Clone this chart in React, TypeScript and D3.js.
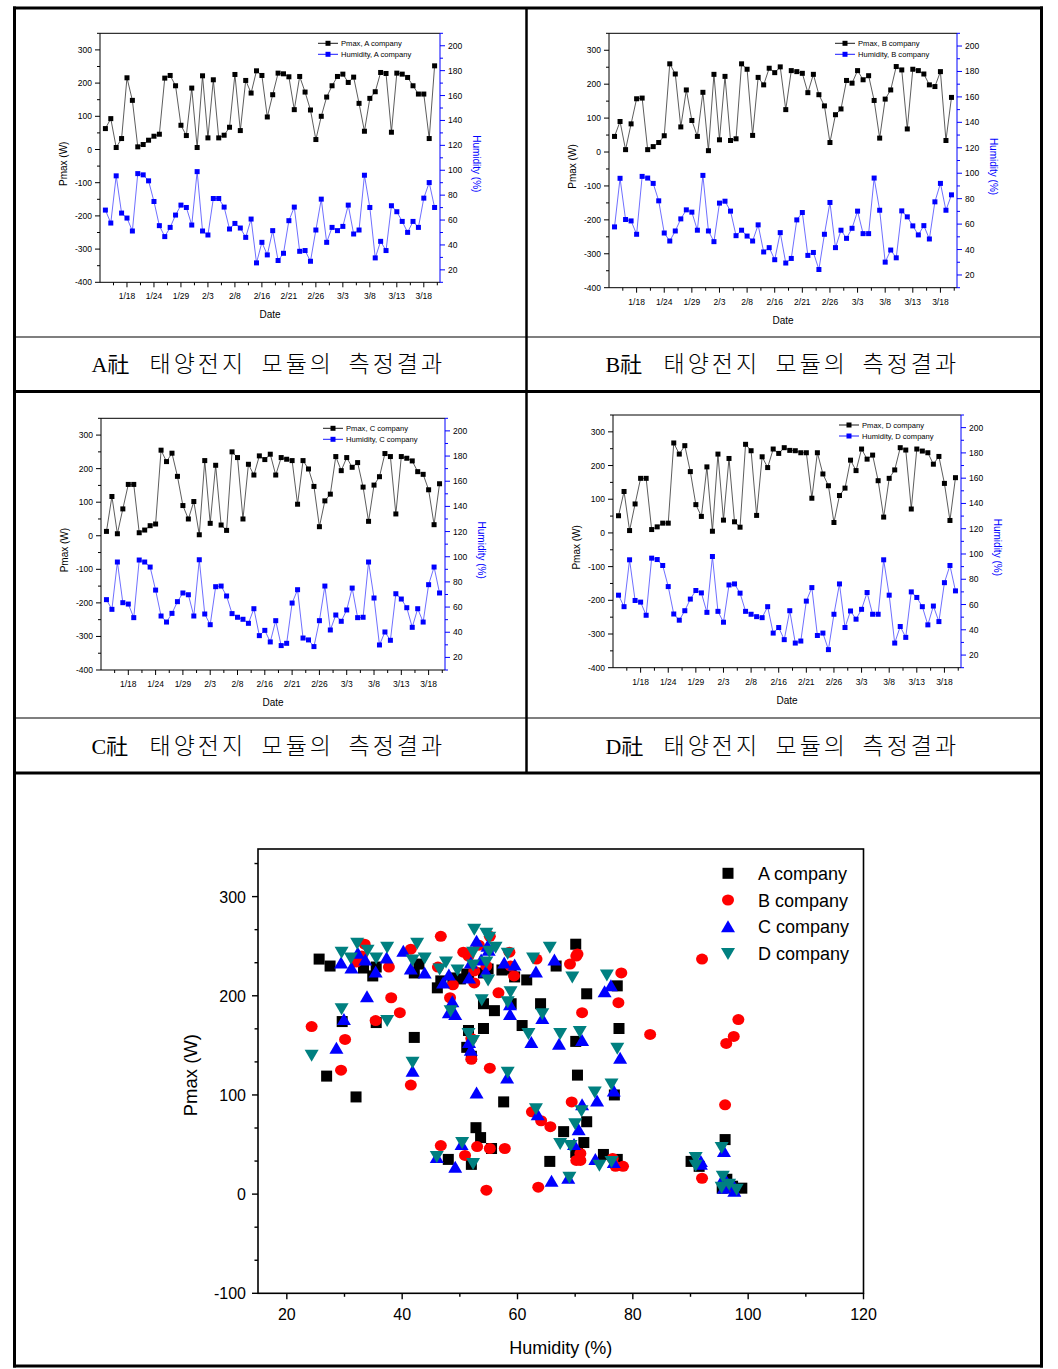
import React from "react";
import * as d3 from "d3";

const companies = ["A", "B", "C", "D"];
const dateTicks = ["1/18", "1/24", "1/29", "2/3", "2/8", "2/16", "2/21", "2/26", "3/3", "3/8", "3/13", "3/18"];

const pmaxA = [63,93,6,33,216,148,8,15,28,40, 46,215,223,192,73,42,185,6,222,35, 210,35,43,67,226,57,208,170,237,223, 98,165,230,228,219,120,220,173,119,30, 100,158,192,220,227,202,218,139,55,154, 174,232,229,52,230,227,217,192,167,167, 33,252];
const humA = [68,57.6,95.5,65.6,61.6,51.2,97.3,96.3,91.5,74.9, 55.5,46.7,54.1,64,72,70.1,56,98.9,51.2,48, 77.3,77.3,70.4,52.8,57.3,53.6,46.1,60.8,25.6,42.1, 32,51.5,27.5,33.3,59.5,70.4,34.9,35.5,26.9,52, 76.8,42.1,54.1,51.5,54.9,72,48.8,52,96,70.1, 29.6,42.9,35.5,71.5,66.7,58.9,50.1,58.9,54.1,77.6, 90.1,70.1];

const pmaxB = [46,90,7,83,157,159,7,16,28,48, 260,230,74,183,93,46,176,4,229,36, 223,34,39,260,244,49,220,198,247,234, 251,125,240,237,232,175,229,169,136,28, 110,127,211,203,240,213,225,152,41,156, 183,252,242,68,244,240,230,198,193,237, 34,161];
const humB = [57.8,96,63.6,62.5,52,97.5,96.2,92,78.3,53, 46.7,54.6,64.1,71.2,69.4,55.2,98.3,54.6,46.2,76.5, 78,70.2,50.9,55.2,50.6,46.7,59.4,38.1,41.5,32, 53.3,29.4,33,63.3,69.1,35.4,37.7,24.3,52,77, 41.5,55.2,48.8,56.7,70.2,52.5,52.5,96.2,70.9,30.1, 39.6,33.5,70.4,65.7,58.6,51.5,58.8,48.3,77.5,92, 70.9,83];

const pmaxC = [13,117,6,80,153,153,9,17,30,35, 255,221,246,177,90,50,102,3,224,37, 210,32,16,250,233,50,213,181,238,227, 243,181,233,228,224,94,224,199,147,27, 104,124,236,194,233,204,218,145,43,151, 176,245,236,65,236,231,223,191,183,137, 33,155];
const humC = [65.9,58.2,95.8,63.5,62.4,51.6,97.4,95.8,91.8,73.5, 52.9,48.1,55,64.3,71.2,69.8,52.9,97.6,54.5,46, 76.2,76.7,68.8,54.8,51.9,50.3,47.1,58.7,37.3,41.5, 32.3,49.2,29.4,31.2,63.2,73.8,35.4,33.9,28.6,49.2, 76.7,41.8,53.7,48.7,57.7,75.1,51.6,51.9,95.8,67.2, 29.9,40.2,33.6,70.6,66.4,59.5,43.9,58.7,48.1,77.8, 91.8,71.2];

const pmaxD = [51,123,7,86,162,162,10,18,29,29, 267,234,259,182,84,49,196,5,234,38, 221,33,17,263,244,52,226,194,249,236, 253,245,244,238,238,103,238,175,140,31, 111,133,216,185,249,219,231,155,47,162, 187,253,246,71,249,243,238,204,227,147, 37,164];
const humD = [67.4,58.3,95.4,63.2,61.9,51.5,96.7,95.6,90.9,74.2, 52.5,47.6,55.1,64.3,71.1,69.2,53.8,98,54.6,46, 75.5,76.3,69,54.6,52.3,50.4,49.6,58.3,37.4,41.8, 32.2,55.1,29.5,31.1,62.7,73.4,35.5,37.4,24.3,52.3, 76.3,41.8,54.9,48.4,56.2,69.5,52.3,52.3,95.4,67.4, 29.5,42.6,34,70,65.6,58.3,43.9,58.8,46.5,77.3, 90.9,70.8];

const pmaxSeries = [pmaxA, pmaxB, pmaxC, pmaxD];
const humSeries = [humA, humB, humC, humD];

const scatterColors = ["#000000", "#ff0000", "#0000ff", "#008080"];
const captionWords = ["태양전지", "모듈의", "측정결과"];

const FONT = "'Liberation Sans', Arial, sans-serif";
const KFONT = "'Noto Sans CJK KR', sans-serif";

type Box = { x0: number; x1: number; y0: number; y1: number };

const panelBoxes: Box[] = [
  { x0: 100, x1: 440, y0: 33.3, y1: 282.3 },
  { x0: 609, x1: 957, y0: 33.3, y1: 287.7 },
  { x0: 101, x1: 445, y0: 418.3, y1: 670 },
  { x0: 613, x1: 961, y0: 415, y1: 667.7 },
];

function Panel({ name, pmax, hum, box }: { name: string; pmax: number[]; hum: number[]; box: Box }) {
  const { x0, x1, y0, y1 } = box;
  const x = d3.scaleLinear().domain([-1, 62]).range([x0, x1]);
  const yL = d3.scaleLinear().domain([-400, 350]).range([y1, y0]);
  const yR = d3.scaleLinear().domain([10, 210]).range([y1, y0]);
  const idx = d3.range(pmax.length);
  const lineP = d3.line<number>().x((i) => x(i)).y((i) => yL(pmax[i]))(idx) || "";
  const lineH = d3.line<number>().x((i) => x(i)).y((i) => yR(hum[i]))(idx) || "";
  const leftMajor = d3.range(-400, 301, 100);
  const leftMinor = d3.range(-350, 351, 100);
  const rightMajor = d3.range(20, 201, 20);
  const rightMinor = d3.range(10, 211, 20);
  const xMajor = dateTicks.map((_, k) => 4 + 5 * k);
  const xMinor = d3.range(0, 13).map((k) => 1.5 + 5 * k);
  const ms = 5;
  const midY = (y0 + y1) / 2 + 6;
  const fs = 8.5;
  return (
    <g>
      <path d={lineP} fill="none" stroke="#333" strokeWidth={0.8} />
      <path d={lineH} fill="none" stroke="#4a4aff" strokeWidth={0.8} />
      {idx.map((i) => (
        <rect key={"p" + i} x={x(i) - ms / 2} y={yL(pmax[i]) - ms / 2} width={ms} height={ms} fill="#000" />
      ))}
      {idx.map((i) => (
        <rect key={"h" + i} x={x(i) - ms / 2} y={yR(hum[i]) - ms / 2} width={ms} height={ms} fill="#0000ff" />
      ))}
      <line x1={x0} x2={x1} y1={y0} y2={y0} stroke="#000" strokeWidth={1} />
      <line x1={x0} x2={x1} y1={y1} y2={y1} stroke="#000" strokeWidth={1} />
      <line x1={x0} x2={x0} y1={y0} y2={y1} stroke="#000" strokeWidth={1} />
      <line x1={x1} x2={x1} y1={y0} y2={y1} stroke="#0000ff" strokeWidth={1} />
      {leftMajor.map((v) => (
        <g key={"lm" + v}>
          <line x1={x0 - 5} x2={x0} y1={yL(v)} y2={yL(v)} stroke="#000" strokeWidth={1} />
          <text x={x0 - 8} y={yL(v) + 3} fontSize={fs} textAnchor="end" fontFamily={FONT}>{v}</text>
        </g>
      ))}
      {leftMinor.map((v) => (
        <line key={"ln" + v} x1={x0 - 3} x2={x0} y1={yL(v)} y2={yL(v)} stroke="#000" strokeWidth={1} />
      ))}
      {rightMajor.map((v) => (
        <g key={"rm" + v}>
          <line x1={x1} x2={x1 + 5} y1={yR(v)} y2={yR(v)} stroke="#0000ff" strokeWidth={1} />
          <text x={x1 + 8} y={yR(v) + 3} fontSize={fs} textAnchor="start" fontFamily={FONT}>{v}</text>
        </g>
      ))}
      {rightMinor.map((v) => (
        <line key={"rn" + v} x1={x1} x2={x1 + 3} y1={yR(v)} y2={yR(v)} stroke="#0000ff" strokeWidth={1} />
      ))}
      {xMajor.map((v, k) => (
        <g key={"xm" + v}>
          <line x1={x(v)} x2={x(v)} y1={y1} y2={y1 + 5} stroke="#000" strokeWidth={1} />
          <text x={x(v)} y={y1 + 17} fontSize={fs} textAnchor="middle" fontFamily={FONT}>{dateTicks[k]}</text>
        </g>
      ))}
      {xMinor.map((v) => (
        <line key={"xn" + v} x1={x(v)} x2={x(v)} y1={y1} y2={y1 + 3} stroke="#000" strokeWidth={1} />
      ))}
      <text x={(x0 + x1) / 2} y={y1 + 36} fontSize={10} textAnchor="middle" fontFamily={FONT}>Date</text>
      <text transform={`translate(${x0 - 33},${midY}) rotate(-90)`} fontSize={10} textAnchor="middle" fontFamily={FONT}>Pmax (W)</text>
      <text transform={`translate(${x1 + 33},${midY}) rotate(90)`} fontSize={10} textAnchor="middle" fontFamily={FONT} fill="#0000ff">Humidity (%)</text>
      {[0, 1].map((r) => {
        const ly = y0 + 10 + r * 11;
        const col = r === 0 ? "#000" : "#0000ff";
        return (
          <g key={"lg" + r}>
            <line x1={x1 - 122} x2={x1 - 102} y1={ly} y2={ly} stroke={col} strokeWidth={0.9} />
            <rect x={x1 - 112 - 2.5} y={ly - 2.5} width={5} height={5} fill={col} />
            <text x={x1 - 99} y={ly + 2.8} fontSize={7.6} fontFamily={FONT}>
              {r === 0 ? `Pmax, ${name} company` : `Humidity, ${name} company`}
            </text>
          </g>
        );
      })}
    </g>
  );
}

function Caption({ name, cx, baseline }: { name: string; cx: number; baseline: number }) {
  const offsets = [-121, -9, 78];
  return (
    <g>
      <text x={cx - 179} y={baseline} fontSize={22} fontFamily={"'Liberation Serif', 'Noto Sans CJK KR', serif"}>{name}社</text>
      {captionWords.map((w, k) => (
        <text key={w} x={cx + offsets[k]} y={baseline} fontSize={23} fontWeight={300} letterSpacing={3} fontFamily={KFONT}>{w}</text>
      ))}
    </g>
  );
}

function Symbol({ k, cx, cy }: { k: number; cx: number; cy: number }) {
  const c = scatterColors[k];
  if (k === 0) return <rect x={cx - 5.5} y={cy - 5.5} width={11} height={11} fill={c} />;
  if (k === 1) return <ellipse cx={cx} cy={cy} rx={6} ry={5.5} fill={c} />;
  if (k === 2) return <path d={`M${cx},${cy - 6.5}L${cx + 7},${cy + 5.5}L${cx - 7},${cy + 5.5}Z`} fill={c} />;
  return <path d={`M${cx - 7},${cy - 5.5}L${cx + 7},${cy - 5.5}L${cx},${cy + 6.5}Z`} fill={c} />;
}

function Scatter() {
  const box = { x0: 258, x1: 863.5, y0: 849, y1: 1293.3 };
  const x = d3.scaleLinear().domain([15, 120]).range([box.x0, box.x1]);
  const y = d3.scaleLinear().domain([-100, 348]).range([box.y1, box.y0]);
  const xMajor = d3.range(20, 121, 20);
  const xMinor = d3.range(30, 111, 20);
  const yMajor = d3.range(-100, 301, 100);
  const yMinor = d3.range(0, 14).map((k) => -100 + (k * 100) / 3);
  return (
    <g>
      {companies.map((name, k) => (
        <g key={name}>
          {pmaxSeries[k].map((p, i) => (
            <Symbol key={i} k={k} cx={x(humSeries[k][i])} cy={y(p)} />
          ))}
        </g>
      ))}
      <rect x={box.x0} y={box.y0} width={box.x1 - box.x0} height={box.y1 - box.y0} fill="none" stroke="#000" strokeWidth={1.6} />
      {xMajor.map((v) => (
        <g key={"x" + v}>
          <line x1={x(v)} x2={x(v)} y1={box.y1} y2={box.y1 + 6} stroke="#000" strokeWidth={1.4} />
          <text x={x(v)} y={box.y1 + 27} fontSize={16} textAnchor="middle" fontFamily={FONT}>{v}</text>
        </g>
      ))}
      {xMinor.map((v) => (
        <line key={"xn" + v} x1={x(v)} x2={x(v)} y1={box.y1} y2={box.y1 + 3.5} stroke="#000" strokeWidth={1.4} />
      ))}
      {yMinor.map((v, k) => (
        <line key={"yn" + k} x1={box.x0 - (k % 3 === 0 ? 6 : 3.5)} x2={box.x0} y1={y(v)} y2={y(v)} stroke="#000" strokeWidth={1.4} />
      ))}
      {yMajor.map((v) => (
        <text key={"y" + v} x={box.x0 - 12} y={y(v) + 6} fontSize={16} textAnchor="end" fontFamily={FONT}>{v}</text>
      ))}
      <text x={(box.x0 + box.x1) / 2} y={1354} fontSize={18} textAnchor="middle" fontFamily={FONT}>Humidity (%)</text>
      <text transform={`translate(197,${(box.y0 + box.y1) / 2 + 4}) rotate(-90)`} fontSize={18.5} textAnchor="middle" fontFamily={FONT}>Pmax (W)</text>
      {companies.map((name, k) => {
        const ly = 873.3 + k * 26.7;
        return (
          <g key={"leg" + name}>
            <Symbol k={k} cx={728} cy={ly} />
            <text x={758} y={ly + 6.5} fontSize={18} fontFamily={FONT}>{name} company</text>
          </g>
        );
      })}
    </g>
  );
}

export default function App() {
  return (
    <div style={{ position: "absolute", left: 0, top: 0 }}>
      <svg width={1058} height={1369} style={{ display: "block", background: "#fff" }}>
        <rect x={0} y={0} width={1058} height={1369} fill="#fff" />
        {companies.map((name, k) => (
          <Panel key={name} name={name} pmax={pmaxSeries[k]} hum={humSeries[k]} box={panelBoxes[k]} />
        ))}
        <Caption name="A" cx={270.5} baseline={372} />
        <Caption name="B" cx={784.5} baseline={372} />
        <Caption name="C" cx={270.5} baseline={754} />
        <Caption name="D" cx={784.5} baseline={754} />
        <Scatter />
        <line x1={13} x2={1043} y1={8} y2={8} stroke="#000" strokeWidth={3} />
        <line x1={13} x2={1043} y1={391.5} y2={391.5} stroke="#000" strokeWidth={3} />
        <line x1={13} x2={1043} y1={773} y2={773} stroke="#000" strokeWidth={3} />
        <line x1={13} x2={1043} y1={1366} y2={1366} stroke="#000" strokeWidth={3} />
        <line x1={14.5} x2={1041} y1={337} y2={337} stroke="#000" strokeWidth={1.2} />
        <line x1={14.5} x2={1041} y1={718} y2={718} stroke="#000" strokeWidth={1.2} />
        <line x1={14.5} x2={14.5} y1={6.5} y2={1367.5} stroke="#000" strokeWidth={3} />
        <line x1={1041.5} x2={1041.5} y1={6.5} y2={1367.5} stroke="#000" strokeWidth={3} />
        <line x1={526.5} x2={526.5} y1={8} y2={773} stroke="#000" strokeWidth={2.5} />
      </svg>
    </div>
  );
}
